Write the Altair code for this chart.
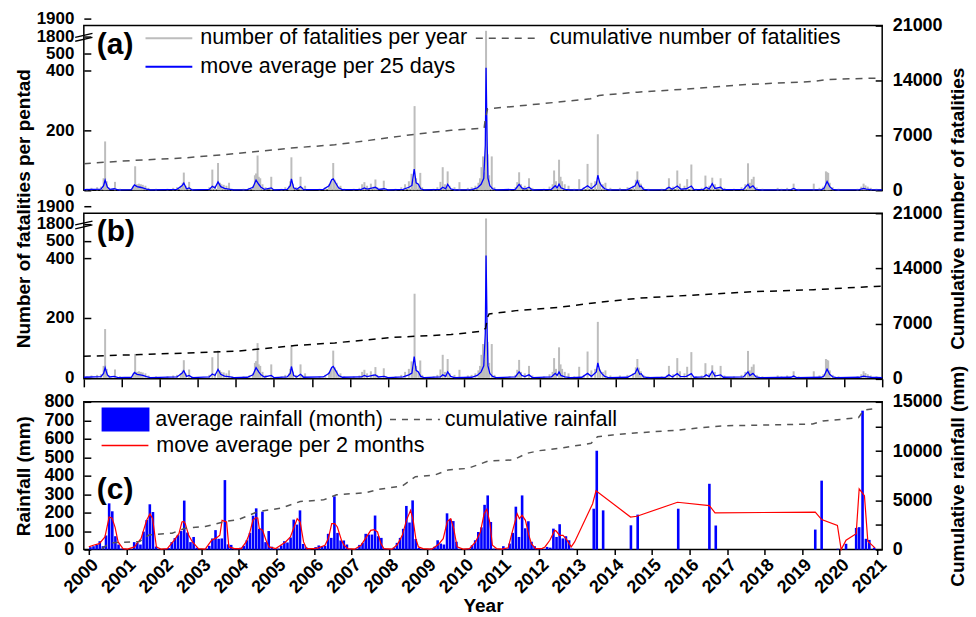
import altair as alt
import pandas as pd

FONT = "Liberation Sans"
YEARS = list(range(2000, 2022))

# ---------------- fatalities per pentad (grey bars) ----------------
pent_year = [
    2000.08, 2000.20, 2000.35, 2000.45, 2000.52, 2000.56, 2000.60, 2000.65, 2000.82, 2000.95,
    2001.30, 2001.35, 2001.40, 2001.45, 2001.50, 2001.55, 2001.62, 2001.70, 2001.90,
    2002.20, 2002.35, 2002.45, 2002.55, 2002.60, 2002.63, 2002.68, 2002.77, 2002.85,
    2003.30, 2003.38, 2003.45, 2003.53, 2003.58, 2003.62, 2003.68, 2003.75, 2003.82, 2003.90,
    2004.20, 2004.35, 2004.45, 2004.50, 2004.53, 2004.57, 2004.60, 2004.64, 2004.70, 2004.78, 2004.93,
    2005.20, 2005.30, 2005.40, 2005.43, 2005.46, 2005.50, 2005.58, 2005.70, 2005.75, 2005.82,
    2006.20, 2006.35, 2006.45, 2006.50, 2006.56, 2006.60, 2006.65, 2006.70, 2006.75, 2006.85,
    2007.10, 2007.25, 2007.32, 2007.38, 2007.45, 2007.55, 2007.62, 2007.67, 2007.72, 2007.89, 2007.95,
    2008.20, 2008.35, 2008.45, 2008.55, 2008.62, 2008.65, 2008.70, 2008.74, 2008.80, 2008.85, 2008.90,
    2009.20, 2009.30, 2009.38, 2009.44, 2009.50, 2009.57, 2009.62, 2009.75, 2009.88,
    2010.10, 2010.20, 2010.30, 2010.38, 2010.42, 2010.46, 2010.50, 2010.53, 2010.58, 2010.62, 2010.66, 2010.73, 2010.80,
    2011.20, 2011.35, 2011.40, 2011.45, 2011.50, 2011.60, 2011.71, 2011.80,
    2012.10, 2012.25, 2012.33, 2012.37, 2012.42, 2012.50, 2012.54, 2012.58, 2012.65, 2012.75, 2012.90,
    2013.03, 2013.15, 2013.25, 2013.35, 2013.45, 2013.52, 2013.58, 2013.65, 2013.72, 2013.85,
    2014.10, 2014.30, 2014.45, 2014.52, 2014.56, 2014.60, 2014.65, 2014.72, 2014.85,
    2015.20, 2015.35, 2015.39, 2015.50, 2015.61, 2015.68, 2015.80, 2015.87, 2015.98,
    2016.10, 2016.25, 2016.35, 2016.45, 2016.53, 2016.60, 2016.75, 2016.85,
    2017.10, 2017.30, 2017.40, 2017.47, 2017.52, 2017.57, 2017.62, 2017.70, 2017.85,
    2018.25, 2018.35, 2018.50, 2018.67, 2018.80,
    2019.20, 2019.35, 2019.45, 2019.52, 2019.55, 2019.58, 2019.62, 2019.70, 2019.85,
    2020.35, 2020.45, 2020.51, 2020.56, 2020.62, 2020.70, 2020.85,
]
pent_value = [
    5, 8, 10, 12, 40, 163, 30, 10, 28, 5,
    15, 80, 20, 22, 20, 18, 15, 8, 5,
    5, 8, 10, 15, 25, 59, 15, 28, 5,
    10, 69, 15, 91, 25, 20, 18, 15, 25, 5,
    5, 8, 15, 50, 56, 116, 45, 40, 20, 10, 45,
    5, 10, 15, 30, 110, 20, 10, 45, 10, 15,
    5, 10, 20, 30, 91, 35, 25, 10, 15, 5,
    5, 8, 20, 27, 15, 22, 12, 36, 10, 32, 5,
    5, 10, 20, 30, 55, 35, 281, 40, 20, 58, 10,
    5, 10, 28, 77, 20, 63, 15, 10, 27,
    8, 10, 15, 25, 40, 77, 113, 60, 1830, 120, 50, 113, 10,
    5, 10, 27, 60, 20, 15, 40, 8,
    5, 12, 20, 66, 30, 102, 45, 30, 20, 15, 5,
    37, 10, 88, 25, 30, 187, 28, 20, 25, 8,
    8, 10, 15, 35, 63, 34, 22, 10, 5,
    5, 10, 40, 12, 66, 22, 15, 37, 86,
    5, 8, 49, 15, 42, 20, 40, 8,
    5, 10, 20, 90, 25, 37, 45, 10, 5,
    8, 5, 8, 22, 5,
    22, 8, 12, 63, 60, 58, 25, 10, 5,
    5, 12, 22, 16, 12, 8, 5,
]

# ---------------- 25-day moving average (blue line) ----------------
ma_year = [
    2000.00, 2000.45, 2000.52, 2000.56, 2000.62, 2000.68, 2000.80, 2000.90,
    2001.25, 2001.33, 2001.40, 2001.48, 2001.55, 2001.65, 2001.75,
    2002.45, 2002.58, 2002.63, 2002.70, 2002.77, 2002.85,
    2003.30, 2003.38, 2003.45, 2003.53, 2003.60, 2003.70, 2003.85, 2003.95,
    2004.30, 2004.45, 2004.53, 2004.60, 2004.66, 2004.75, 2004.93, 2005.00,
    2005.35, 2005.43, 2005.46, 2005.52, 2005.60, 2005.70, 2005.78,
    2006.30, 2006.45, 2006.52, 2006.56, 2006.62, 2006.70, 2006.80,
    2007.30, 2007.38, 2007.45, 2007.60, 2007.67, 2007.75, 2007.90, 2008.00,
    2008.40, 2008.55, 2008.63, 2008.69, 2008.74, 2008.80, 2008.86, 2008.95,
    2009.38, 2009.44, 2009.52, 2009.57, 2009.65, 2009.75,
    2010.20, 2010.35, 2010.45, 2010.52, 2010.56, 2010.58, 2010.61, 2010.63, 2010.68, 2010.75, 2010.85,
    2011.35, 2011.45, 2011.52, 2011.60, 2011.71, 2011.80,
    2012.30, 2012.40, 2012.45, 2012.50, 2012.55, 2012.65, 2012.80,
    2013.10, 2013.25, 2013.35, 2013.48, 2013.52, 2013.57, 2013.62, 2013.70, 2013.80,
    2014.30, 2014.50, 2014.56, 2014.62, 2014.66, 2014.72, 2014.85,
    2015.30, 2015.39, 2015.48, 2015.61, 2015.70, 2015.85, 2015.98, 2016.05,
    2016.30, 2016.37, 2016.45, 2016.53, 2016.60, 2016.75, 2016.82,
    2017.35, 2017.47, 2017.52, 2017.60, 2017.68, 2017.80,
    2018.60, 2018.67, 2018.75,
    2019.40, 2019.47, 2019.55, 2019.62, 2019.70, 2019.80,
    2020.40, 2020.51, 2020.58, 2020.70, 2021.00,
]
ma_value = [
    2, 4, 15, 34, 10, 3, 5, 1,
    2, 18, 12, 10, 8, 4, 1,
    3, 15, 24, 5, 8, 1,
    3, 13, 8, 28, 12, 6, 3, 1,
    2, 10, 34, 20, 10, 3, 8, 1,
    3, 15, 38, 8, 3, 12, 2,
    3, 15, 35, 38, 25, 8, 2,
    3, 8, 4, 8, 10, 3, 5, 1,
    3, 10, 16, 71, 25, 20, 5, 1,
    3, 10, 5, 20, 5, 1,
    2, 8, 20, 40, 150, 415, 150, 40, 15, 5, 1,
    3, 20, 8, 4, 10, 1,
    3, 15, 8, 20, 8, 3, 1,
    2, 15, 5, 20, 50, 25, 15, 5, 1,
    2, 15, 31, 12, 14, 3, 1,
    2, 10, 3, 14, 4, 5, 14, 2,
    3, 10, 4, 22, 6, 10, 2,
    3, 20, 8, 15, 3, 1,
    2, 6, 1,
    2, 6, 29, 12, 3, 1,
    2, 6, 4, 2, 1,
]

# ---------------- cumulative fatalities ----------------
cum_a_year = [2000.00, 2001.34, 2002.62, 2003.97, 2005.46, 2006.60, 2007.50, 2008.69, 2009.66,
              2010.53, 2010.56, 2010.62, 2011.31, 2012.47, 2013.33, 2013.55, 2014.57, 2015.70,
              2017.45, 2019.20, 2019.55, 2020.86, 2021.00]
cum_a_value = [3390, 3820, 4110, 4660, 5380, 5800, 6360, 7130, 7640,
               7930, 9100, 10390, 10690, 11240, 11660, 12090, 12510, 12860,
               13490, 13870, 14130, 14300, 14320]
cum_b_year = [2000.00, 2001.50, 2002.75, 2003.97, 2005.55, 2006.60, 2008.17, 2009.66, 2010.45,
              2010.57, 2010.62, 2010.66, 2011.37, 2012.50, 2013.55, 2014.65, 2016.57, 2017.60,
              2019.20, 2020.80, 2021.00]
cum_b_value = [2860, 3080, 3290, 3490, 4220, 4560, 5270, 5610, 6030,
               6400, 7800, 8230, 8650, 9070, 9700, 10250, 10760, 11050,
               11300, 11720, 11750]

# ---------------- monthly rainfall (bars) ----------------
rain_years = list(range(2000, 2013))
rain_monthly = [
    [13, 18, 25, 45, 18, 76, 250, 207, 72, 27, 5, 2],      # 2000
    [0, 3, 40, 36, 27, 97, 160, 245, 203, 16, 2, 0],       # 2001
    [3, 8, 40, 62, 78, 100, 265, 92, 40, 68, 10, 0],       # 2002
    [0, 5, 20, 60, 105, 58, 60, 376, 28, 25, 8, 2],        # 2003
    [10, 20, 50, 90, 183, 223, 112, 205, 40, 100, 15, 3],  # 2004
    [5, 22, 45, 38, 65, 162, 135, 212, 30, 12, 5, 0],      # 2005
    [13, 22, 18, 20, 85, 63, 288, 90, 49, 49, 27, 3],      # 2006
    [0, 5, 25, 36, 85, 81, 81, 184, 72, 63, 5, 2],         # 2007
    [3, 10, 36, 63, 112, 236, 146, 266, 57, 8, 3, 0],      # 2008
    [2, 5, 15, 50, 32, 27, 196, 166, 154, 42, 3, 0],       # 2009
    [2, 5, 23, 50, 95, 120, 242, 293, 149, 5, 2, 0],       # 2010
    [18, 5, 32, 90, 232, 68, 293, 115, 153, 42, 18, 5],    # 2011
    [5, 3, 14, 10, 113, 68, 137, 60, 72, 50, 5, 0],        # 2012
]
rain_late_year = [2013.45, 2013.53, 2013.70, 2014.44, 2014.62, 2015.70, 2016.53, 2016.70,
                  2019.35, 2019.52, 2019.95, 2020.17, 2020.44, 2020.52, 2020.61, 2020.70,
                  2020.79, 2020.92]
rain_late_value = [221, 535, 212, 131, 189, 221, 356, 130,
                   108, 373, 4, 31, 117, 121, 752, 58,
                   52, 10]

# ---------------- 2-month moving average (red line) ----------------
rma_year = [
    2000.00, 2000.12, 2000.28, 2000.43, 2000.54, 2000.62, 2000.70, 2000.78, 2000.91,
    2001.03, 2001.22, 2001.30, 2001.39, 2001.54, 2001.63, 2001.70, 2001.80, 2001.92,
    2002.09, 2002.27, 2002.40, 2002.48, 2002.53, 2002.57, 2002.66, 2002.76, 2002.92,
    2003.10, 2003.27, 2003.40, 2003.49, 2003.55, 2003.67, 2003.73, 2003.88,
    2004.06, 2004.19, 2004.28, 2004.37, 2004.44, 2004.50, 2004.54, 2004.63, 2004.72, 2004.80, 2004.98,
    2005.11, 2005.24, 2005.37, 2005.55, 2005.63, 2005.72, 2005.80,
    2006.00, 2006.12, 2006.29, 2006.38, 2006.47, 2006.55, 2006.62, 2006.73, 2006.80, 2006.90,
    2007.08, 2007.25, 2007.38, 2007.51, 2007.60, 2007.69, 2007.78, 2007.86,
    2008.08, 2008.22, 2008.35, 2008.46, 2008.57, 2008.64, 2008.71, 2008.78, 2008.90,
    2009.13, 2009.31, 2009.44, 2009.55, 2009.64, 2009.72, 2009.81, 2009.97,
    2010.14, 2010.30, 2010.43, 2010.53, 2010.60, 2010.68, 2010.75, 2010.86,
    2011.00, 2011.17, 2011.28, 2011.41, 2011.47, 2011.54, 2011.63, 2011.72, 2011.79, 2011.90,
    2012.07, 2012.15, 2012.28, 2012.41, 2012.45, 2012.54, 2012.63, 2012.72, 2012.85, 2012.94,
    2013.42, 2013.51, 2014.43, 2014.60, 2015.68, 2016.53, 2016.68, 2019.35, 2019.52, 2019.94,
    2020.04, 2020.17, 2020.44, 2020.52, 2020.66, 2020.75, 2020.94,
]
rma_value = [
    14, 23, 32, 68, 176, 170, 120, 41, 5,
    2, 14, 38, 59, 158, 194, 167, 14, 2,
    5, 50, 86, 149, 152, 140, 77, 41, 5,
    2, 50, 63, 77, 158, 149, 14, 5,
    5, 41, 86, 158, 172, 171, 115, 104, 50, 14, 5,
    23, 41, 68, 167, 149, 41, 5,
    5, 9, 23, 59, 140, 140, 122, 50, 23, 5,
    2, 23, 63, 104, 108, 95, 32, 5,
    2, 27, 77, 158, 212, 158, 59, 14, 5,
    2, 27, 59, 153, 167, 113, 14, 2,
    5, 41, 95, 194, 218, 149, 23, 5,
    2, 9, 95, 194, 167, 185, 158, 77, 32, 5,
    5, 14, 50, 104, 100, 77, 77, 56, 14, 41,
    248, 318, 176, 180, 256, 238, 198, 203, 162, 130,
    0, 50, 86, 329, 292, 45, 9,
]

# ---------------- cumulative rainfall ----------------
cum_rain_year = [2000.35, 2000.55, 2000.73, 2001.35, 2001.61, 2002.22, 2002.57, 2003.10, 2003.62,
                 2003.97, 2004.50, 2005.11, 2005.63, 2006.25, 2006.60, 2007.38, 2007.73, 2008.35,
                 2008.70, 2009.22, 2009.57, 2010.10, 2010.65, 2011.30, 2011.67, 2012.00, 2012.63,
                 2013.38, 2013.55, 2013.95, 2014.65, 2015.70, 2016.57, 2017.00, 2019.28, 2019.55,
                 2020.50, 2020.64, 2020.86, 2021.00]
cum_rain_value = [100, 650, 710, 810, 1490, 1660, 2160, 2330, 2840,
                  3010, 3850, 4190, 4870, 5040, 5550, 5780, 6110, 6460,
                  7400, 7570, 8080, 8240, 9000, 9090, 9770, 10040, 10340,
                  10780, 11460, 11630, 11860, 12130, 12470, 12570, 12740, 13050,
                  13380, 14160, 14260, 14300]

# ---------------- labels ----------------
S_PENT = "number of fatalities per year"
S_MA = "move average per 25 days"
S_CUM = "cumulative number of fatalities"
S_RAIN = "average rainfall (month)"
S_RMA = "move average per 2 months"
S_CRAIN = "cumulative rainfall"

# ---------------- tables ----------------
pent_df = pd.DataFrame({"year": pent_year, "value": pent_value, "series": S_PENT})
ma_df = pd.DataFrame({"year": ma_year, "value": ma_value, "series": S_MA})
cum_a_df = pd.DataFrame({"year": cum_a_year, "cum": cum_a_value, "series": S_CUM})
cum_b_df = pd.DataFrame({"year": cum_b_year, "cum": cum_b_value, "series": S_CUM})
rain_rows = []
for y, months in zip(rain_years, rain_monthly):
    for m, v in enumerate(months):
        rain_rows.append({"year": y + (m + 0.5) / 12.0, "value": v})
for y, v in zip(rain_late_year, rain_late_value):
    rain_rows.append({"year": y, "value": v})
rain_df = pd.DataFrame(rain_rows)
rain_df["series"] = S_RAIN
rma_df = pd.DataFrame({"year": rma_year, "value": rma_value, "series": S_RMA})
crain_df = pd.DataFrame({"year": cum_rain_year, "cum": cum_rain_value, "series": S_CRAIN})
brk_df = pd.DataFrame({"year": [2000], "value": [1800]})

# ---------------- helpers ----------------
XSCALE = alt.Scale(domain=[2000, 2021], nice=False, zero=False)


def xenc(axis):
    return alt.X("year:Q", scale=XSCALE, axis=axis)


FAT_RANGE = [165, 45, 27.5, 10.5, -7]


def fat_scale():
    return alt.Scale(domain=[0, 400, 500, 1800, 1900], range=FAT_RANGE, nice=False, zero=False)


def left_axis(values, title=None, ty=0, fs=18):
    return alt.Axis(values=values, format="d", orient="left", offset=-7, tickSize=7, tickWidth=1.5,
                    tickColor="black", labelPadding=10, labelFontSize=fs, labelFontWeight="bold",
                    labelOverlap=False, labelFlush=False, domain=False, grid=False,
                    title=title, titleX=-67, titleY=ty, titleAngle=270, titleBaseline="middle",
                    titleAlign="center", titleFontSize=19, titleFontWeight="bold")


def right_axis(values, title=None, ty=0, label_expr=None):
    kw = {}
    if label_expr is not None:
        kw["labelExpr"] = label_expr
    return alt.Axis(values=values, format="d", orient="right", offset=-7, tickSize=7, tickWidth=1.5,
                    tickColor="black", labelPadding=10, labelFontSize=18, labelFontWeight="bold",
                    labelOverlap=False, labelFlush=False, domain=False, grid=False,
                    title=title, titleX=82, titleY=ty, titleAngle=270, titleBaseline="middle",
                    titleAlign="center", titleFontSize=19, titleFontWeight="bold", **kw)


LEG = dict(orient="none", title=None, labelFont=FONT, labelFontSize=21.6, labelColor="black",
           labelLimit=0, padding=0, rowPadding=5.5, symbolOpacity=1)


def letter(txt, ypix=19):
    return alt.Chart(pd.DataFrame({"t": [txt]})).mark_text(
        font=FONT, fontSize=30, fontWeight="bold", align="left", baseline="middle", color="black"
    ).encode(x=alt.value(13), y=alt.value(ypix), text="t:N")


def breaker(xaxis, yaxis):
    return alt.Chart(brk_df).mark_point(
        shape="M-1,0.15L1,-0.3M-1,0.6L1,0.15", size=300, filled=False, color="black",
        strokeWidth=1.3, opacity=1
    ).encode(x=xenc(xaxis), y=alt.Y("value:Q", scale=fat_scale(), axis=yaxis))


LEFT_VALUES = [0, 200, 400, 500, 1800, 1900]
RIGHT_VALUES = [0, 7000, 14000, 21000]

# ---------------- panel (a) ----------------
stroke_a = alt.Scale(domain=[S_PENT, S_MA], range=["#bdbdbd", "#0000ff"])
leg_a1 = alt.Legend(legendX=51, legendY=2, symbolType="M0,0H10", symbolSize=88,
                    symbolStrokeWidth=2, labelOffset=44, **LEG)
leg_a2 = alt.Legend(legendX=382, legendY=2, symbolType="M0,0H10", symbolSize=144,
                    symbolStrokeWidth=1.5, symbolStrokeColor="#555555", labelOffset=63, **LEG)
yaxis_a = left_axis(LEFT_VALUES, fs=17)

bars_a = alt.Chart(pent_df).mark_rule(strokeWidth=2).encode(
    x=xenc(None),
    y=alt.Y("value:Q", scale=fat_scale(), axis=yaxis_a),
    y2=alt.datum(0),
    stroke=alt.Stroke("series:N", scale=stroke_a, legend=leg_a1),
)
ma_a = alt.Chart(ma_df).mark_line(strokeWidth=1.3).encode(
    x=xenc(None),
    y=alt.Y("value:Q", scale=fat_scale(), axis=yaxis_a),
    stroke=alt.Stroke("series:N", scale=stroke_a, legend=leg_a1),
)
cum_a = alt.Chart(cum_a_df).mark_line(strokeWidth=1.5, color="#555555").encode(
    x=xenc(None),
    y=alt.Y("cum:Q", scale=alt.Scale(domain=[0, 21000], nice=False, zero=False),
            axis=right_axis(RIGHT_VALUES)),
    strokeDash=alt.StrokeDash("series:N", scale=alt.Scale(domain=[S_CUM], range=[[7, 6]]),
                              legend=leg_a2),
)
panel_a = alt.layer(
    alt.layer(bars_a, ma_a, breaker(None, yaxis_a), letter("(a)")), cum_a
).resolve_scale(y="independent").properties(width=800, height=165)

# ---------------- panel (b) ----------------
xaxis_b = alt.Axis(values=YEARS, labels=False, tickSize=8, tickWidth=1.5, tickColor="black",
                   title=None, domain=False, grid=False)
yaxis_b = left_axis(LEFT_VALUES, "Number of fatalities per pentad", -5, fs=17)
bars_b = alt.Chart(pent_df).mark_rule(strokeWidth=2, color="#bdbdbd").encode(
    x=xenc(xaxis_b),
    y=alt.Y("value:Q", scale=fat_scale(), axis=yaxis_b),
    y2=alt.datum(0),
)
ma_b = alt.Chart(ma_df).mark_line(strokeWidth=1.3, color="#0000ff").encode(
    x=xenc(xaxis_b),
    y=alt.Y("value:Q", scale=fat_scale(), axis=yaxis_b),
)
cum_b = alt.Chart(cum_b_df).mark_line(strokeWidth=1.5, color="black", strokeDash=[7, 6]).encode(
    x=xenc(xaxis_b),
    y=alt.Y("cum:Q", scale=alt.Scale(domain=[0, 21000], nice=False, zero=False),
            axis=right_axis(RIGHT_VALUES, "Cumulative number of fatalities", -5)),
)
panel_b = alt.layer(
    alt.layer(bars_b, ma_b, breaker(xaxis_b, yaxis_b), letter("(b)")), cum_b
).resolve_scale(y="independent").properties(width=800, height=166)

# ---------------- panel (c) ----------------
xaxis_c = alt.Axis(values=YEARS, format="d", labelAngle=-45, labelFontSize=18, labelFontWeight="bold",
                   labelOverlap=False, labelFlush=False, labelPadding=1, tickSize=5, tickWidth=1.5,
                   tickColor="black", domain=False, grid=False, title="Year", titleFontSize=19,
                   titleFontWeight="bold", titlePadding=0)
rain_axis = left_axis(list(range(0, 801, 100)), "Rainfall (mm)", 74)
leg_c1 = alt.Legend(legendX=7, legendY=7, symbolType="M0,-2.5H10V2.5H0Z", symbolSize=92,
                    symbolStrokeWidth=0, labelOffset=43, **LEG)
leg_c2 = alt.Legend(legendX=7, legendY=33, symbolType="M0,0H10", symbolSize=88,
                    symbolStrokeWidth=1.5, labelOffset=44, **LEG)
leg_c3 = alt.Legend(legendX=296, legendY=7, symbolType="M0,0H10", symbolSize=100,
                    symbolStrokeWidth=1.5, symbolStrokeColor="#555555", labelOffset=44, **LEG)

bars_c = alt.Chart(rain_df).mark_bar(size=2.6).encode(
    x=xenc(xaxis_c),
    y=alt.Y("value:Q", scale=alt.Scale(domain=[0, 800], nice=False, zero=False), axis=rain_axis),
    fill=alt.Fill("series:N", scale=alt.Scale(domain=[S_RAIN], range=["#0000ff"]), legend=leg_c1),
)
rma_c = alt.Chart(rma_df).mark_line(strokeWidth=1.2).encode(
    x=xenc(xaxis_c),
    y=alt.Y("value:Q", scale=alt.Scale(domain=[0, 800], nice=False, zero=False), axis=rain_axis),
    stroke=alt.Stroke("series:N", scale=alt.Scale(domain=[S_RMA], range=["#ff0000"]), legend=leg_c2),
)
crain_c = alt.Chart(crain_df).mark_line(strokeWidth=1.5, color="#555555").encode(
    x=xenc(xaxis_c),
    y=alt.Y("cum:Q", scale=alt.Scale(domain=[0, 15000], nice=False, zero=False),
            axis=right_axis(list(range(0, 15001, 2500)), "Cumulative rainfall (mm)", 74,
                            "datum.value % 5000 == 0 ? datum.label : ''")),
    strokeDash=alt.StrokeDash("series:N", scale=alt.Scale(domain=[S_CRAIN], range=[[6, 6]]),
                              legend=leg_c3),
)
panel_c = alt.layer(
    alt.layer(bars_c, rma_c, letter("(c)", 88)), crain_c
).resolve_scale(y="independent").properties(width=800, height=148)

chart = alt.vconcat(panel_a, panel_b, panel_c, spacing=23, bounds="flush").resolve_scale(
    x="independent", y="independent", stroke="independent", strokeDash="independent",
    fill="independent"
).properties(
    padding={"left": 14, "top": 8, "right": 8, "bottom": 2}
).configure(font=FONT).configure_view(stroke="black", strokeWidth=1.5)

chart.save("out.html", embed_options={"renderer": "svg", "actions": False})
